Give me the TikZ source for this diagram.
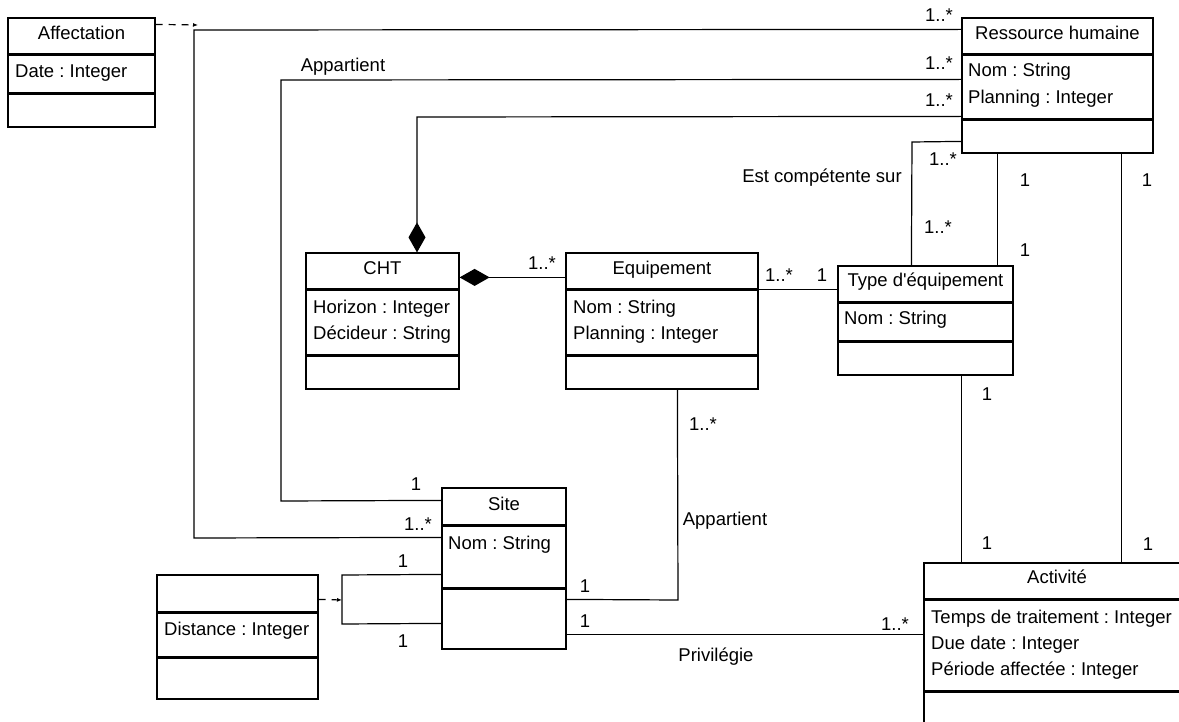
\documentclass[tikz,border=0pt]{standalone}
\usepackage{fontspec}
\setmainfont{Liberation Sans}
\usetikzlibrary{arrows.meta}
\tikzset{
  cls/.style={draw, line width=1.2pt, inner sep=0pt, rectangle},
  sepline/.style={line width=2.4pt},
  ttl/.style={anchor=base, inner sep=0pt, font=\fontsize{18.5}{22}\selectfont},
  attr/.style={anchor=base west, inner sep=0pt, font=\fontsize{18.5}{22}\selectfont},
  lbl/.style={anchor=base, inner sep=0pt, font=\fontsize{18.5}{22}\selectfont},
  assoc/.style={line width=1.2pt},
  comp/.style={line width=1.2pt, -{Diamond[length=30pt,width=17pt]}},
  dep/.style={line width=1.2pt, dash pattern=on 7pt off 6pt, -{Latex[length=5pt,width=4pt]}}
}
\frenchspacing
\begin{document}
\begin{tikzpicture}[x=1pt,y=-1pt]
\useasboundingbox (0,0) rectangle (1179,722);
\clip (0,0) rectangle (1179,722);
\fill[white] (0,0) rectangle (1179,722);

% class boxes
\node[cls, minimum width=147pt, minimum height=109pt] (aff) at (81.5,72.5) {};
\node[cls, minimum width=191pt, minimum height=135pt] (rh) at (1057.5,85.5) {};
\node[cls, minimum width=153pt, minimum height=136pt] (cht) at (382.5,321) {};
\node[cls, minimum width=192pt, minimum height=136pt] (eq) at (662,321) {};
\node[cls, minimum width=175pt, minimum height=109pt] (type) at (925.5,320.5) {};
\node[cls, minimum width=124pt, minimum height=161pt] (site) at (504,568.5) {};
\node[cls, minimum width=161pt, minimum height=124pt] (dist) at (237.5,637) {};
\node[cls, minimum width=266pt, minimum height=177pt] (act) at (1057,651.5) {};

% separators
\foreach \n/\a/\b in {aff/37/76, rh/37/102, cht/37/103, eq/37/103, type/37/76, site/38/101, dist/38/83, act/37/129}{
  \draw[sepline] ([yshift=-\a pt]\n.north west) -- ([yshift=-\a pt]\n.north east);
  \draw[sepline] ([yshift=-\b pt]\n.north west) -- ([yshift=-\b pt]\n.north east);
}

% titles
\node[ttl] (afft) at (81.5,40) {Affectation};
\node[ttl] (rht) at (1057.5,40) {Ressource humaine};
\node[ttl] (chtt) at (382.5,275) {CHT};
\node[ttl] (eqt) at (662,275) {Equipement};
\node[ttl] (typet) at (925.5,287) {Type d\textquotesingle équipement};
\node[ttl] (sitet) at (504,510) {Site};
\node[ttl] (actt) at (1057,583) {Activité};

% attributes
\node[attr] (affa) at (15,78) {Date : Integer};
\node[attr] (rha) at (968,77) {Nom : String};
\node[attr] (rhb) at (968,104) {Planning : Integer};
\node[attr] (chta) at (313,314) {Horizon : Integer};
\node[attr] (chtb) at (313,340) {Décideur : String};
\node[attr] (eqa) at (573,314) {Nom : String};
\node[attr] (eqb) at (573,340) {Planning : Integer};
\node[attr] (typea) at (844,324) {Nom : String};
\node[attr] (sitea) at (448,549) {Nom : String};
\node[attr] (dista) at (164,635) {Distance : Integer};
\node[attr] (acta) at (931,623) {Temps de traitement : Integer};
\node[attr] (actb) at (931,649) {Due date : Integer};
\node[attr] (actc) at (931,675) {Période affectée : Integer};

% connectors
\coordinate (k1) at (194,30);
\coordinate (k2) at (194,538);
\draw[assoc] ([yshift=-12pt]rh.north west) -- (k1) -- (k2) -- ([yshift=-50pt]site.north west);
\coordinate (k3) at (281,80);
\coordinate (k4) at (281,501);
\draw[assoc] ([yshift=-62pt]rh.north west) -- (k3) -- (k4) -- ([yshift=-13pt]site.north west);
\coordinate (k5) at (417,117);
\draw[comp] ([yshift=-99pt]rh.north west) -- (k5) -- ([xshift=34.5pt]cht.north);
\draw[comp] ([yshift=-25pt]eq.north west) -- ([yshift=-25pt]cht.north east);
\coordinate (k6) at (912,142);
\draw[assoc] ([yshift=-124pt]rh.north west) -- (k6) -- ([xshift=74pt]type.north west);
\draw[assoc] ([xshift=36pt]rh.south west) -- ([xshift=160pt]type.north west);
\draw[assoc] ([xshift=160pt]rh.south west) -- ([xshift=198pt]act.north west);
\draw[assoc] ([yshift=-37pt]eq.north east) -- ([yshift=-24pt]type.north west);
\draw[assoc] ([xshift=124pt]type.south west) -- ([xshift=38pt]act.north west);
\coordinate (k7) at (678,600);
\draw[assoc] ([xshift=112pt]eq.south west) -- (k7) -- ([yshift=-112pt]site.north east);
\draw[assoc] ([yshift=-147pt]site.north east) -- ([yshift=-72pt]act.north west);
\coordinate (k8) at (342,575);
\coordinate (k9) at (342,624);
\draw[assoc] ([yshift=-87pt]site.north west) -- (k8) -- (k9) -- ([yshift=-136pt]site.north west);
\coordinate (loopmid) at (342,600);
\draw[dep] ([yshift=-25pt]dist.north east) -- (loopmid);
\coordinate (affend) at (198,25);
\draw[dep] ([yshift=-7pt]aff.north east) -- (affend);

% labels
\node[lbl] (l1) at (939,22) {1..*};
\node[lbl] (l2) at (939,70) {1..*};
\node[lbl] (l3) at (939,107) {1..*};
\node[lbl] (l4) at (343,72) {Appartient};
\node[lbl] (l5) at (943,166) {1..*};
\node[lbl] (l6) at (822,183) {Est compétente sur};
\node[lbl] (l7) at (938,234) {1..*};
\node[lbl] (l8) at (1025,187) {1};
\node[lbl] (l9) at (1025,257) {1};
\node[lbl] (l10) at (1147,187) {1};
\node[lbl] (l11) at (779,282) {1..*};
\node[lbl] (l12) at (822,282) {1};
\node[lbl] (l13) at (542,270) {1..*};
\node[lbl] (l14) at (987,400) {1};
\node[lbl] (l15) at (703,430) {1..*};
\node[lbl] (l16) at (725,525) {Appartient};
\node[lbl] (l17) at (416,490) {1};
\node[lbl] (l18) at (418,530) {1..*};
\node[lbl] (l19) at (403,567) {1};
\node[lbl] (l20) at (403,647) {1};
\node[lbl] (l21) at (585,592) {1};
\node[lbl] (l22) at (585,627) {1};
\node[lbl] (l23) at (895,630) {1..*};
\node[lbl] (l24) at (716,661) {Privilégie};
\node[lbl] (l25) at (987,549) {1};
\node[lbl] (l26) at (1148,550) {1};
\end{tikzpicture}
\end{document}
